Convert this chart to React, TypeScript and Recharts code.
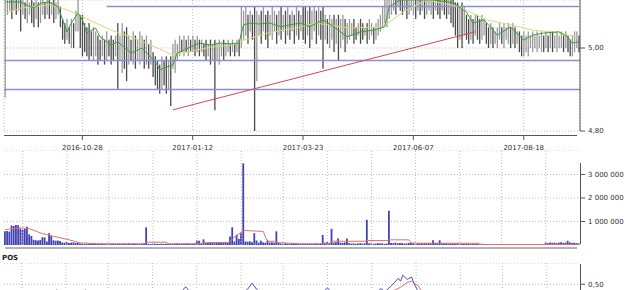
import { ComposedChart, Bar, Line, XAxis, YAxis, CartesianGrid, ReferenceLine } from 'recharts'

// daily highs / lows, one per session
const high = [
  5.13, 5.12, 5.13, 5.12, 5.13, 5.12, 5.12, 5.13, 5.12, 5.11,
  5.12, 5.11, 5.12, 5.11, 5.12, 5.11, 5.12, 5.12, 5.11, 5.12,
  5.12, 5.11, 5.12, 5.11, 5.12, 5.10, 5.07, 5.06, 5.07, 5.05,
  5.07, 5.06, 5.09, 5.12, 5.08, 5.08, 5.06, 5.05, 5.06, 5.04,
  5.05, 5.04, 5.03, 5.02, 5.03, 5.02, 5.04, 5.02, 5.03, 5.02,
  5.03, 5.06, 5.03, 5.06, 5.04, 5.05, 5.03, 5.02, 5.04, 5.03,
  5.02, 5.04, 5.03, 5.02, 5.03, 5.01, 5.02, 4.99, 4.98, 4.97,
  4.96, 4.98, 4.97, 4.98, 4.97, 4.98, 5.01, 5.02, 5.01, 5.03,
  5.02, 5.03, 5.02, 5.03, 5.02, 5.03, 5.02, 5.03, 5.02, 5.02,
  5.01, 5.02, 5.01, 5.02, 5.01, 5.02, 5.01, 5.02, 5.01, 5.02,
  5.01, 5.02, 5.01, 5.02, 5.01, 5.02, 5.02, 5.10, 5.09, 5.10,
  5.08, 5.09, 5.08, 5.10, 5.09, 5.08, 5.09, 5.10, 5.08, 5.09,
  5.08, 5.10, 5.09, 5.08, 5.09, 5.10, 5.08, 5.09, 5.10, 5.08,
  5.09, 5.08, 5.10, 5.09, 5.08, 5.10, 5.10, 5.09, 5.10, 5.09,
  5.10, 5.09, 5.10, 5.09, 5.10, 5.08, 5.07, 5.08, 5.07, 5.08,
  5.07, 5.08, 5.07, 5.08, 5.07, 5.06, 5.07, 5.06, 5.07, 5.05,
  5.06, 5.07, 5.06, 5.05, 5.06, 5.07, 5.06, 5.05, 5.06, 5.07,
  5.08, 5.10, 5.12, 5.13, 5.13, 5.13, 5.14, 5.13, 5.14, 5.14,
  5.13, 5.14, 5.13, 5.14, 5.13, 5.14, 5.13, 5.14, 5.13, 5.14,
  5.13, 5.14, 5.13, 5.14, 5.13, 5.14, 5.13, 5.13, 5.14, 5.13,
  5.13, 5.12, 5.13, 5.12, 5.11, 5.11, 5.10, 5.11, 5.10, 5.08,
  5.07, 5.08, 5.07, 5.08, 5.08, 5.07, 5.08, 5.07, 5.06, 5.05,
  5.06, 5.05, 5.04, 5.05, 5.06, 5.05, 5.06, 5.05, 5.06, 5.05,
  5.06, 5.05, 5.04, 5.04, 5.03, 5.04, 5.03, 5.04, 5.03, 5.04,
  5.03, 5.04, 5.03, 5.04, 5.03, 5.04, 5.03, 5.04, 5.04, 5.03,
  5.04, 5.03, 5.04, 5.03, 5.04, 5.03, 5.02, 5.03, 5.04, 5.04,
  5.03,
]
const low = [
  4.88, 5.08, 5.09, 5.07, 5.09, 5.08, 5.09, 5.04, 5.08, 5.07,
  5.06, 5.08, 5.06, 5.05, 5.07, 5.05, 5.06, 5.08, 5.07, 5.08,
  5.07, 5.08, 5.06, 5.07, 5.08, 5.05, 5.02, 5.01, 5.02, 5.01,
  5.00, 5.00, 5.04, 5.04, 5.00, 4.98, 4.99, 4.98, 4.97, 4.98,
  4.97, 4.98, 4.96, 4.97, 4.98, 4.96, 4.97, 4.98, 4.96, 4.97,
  4.98, 4.90, 4.97, 4.94, 4.95, 4.92, 4.96, 4.97, 4.96, 4.95,
  4.97, 4.96, 4.97, 4.95, 4.96, 4.95, 4.96, 4.93, 4.91, 4.90,
  4.89, 4.90, 4.91, 4.89, 4.90, 4.86, 4.95, 4.94, 4.97, 4.98,
  4.99, 4.98, 4.99, 4.98, 4.99, 4.99, 4.98, 4.99, 4.98, 4.99,
  4.98, 4.97, 4.98, 4.96, 4.97, 4.85, 4.97, 4.96, 4.98, 4.97,
  4.98, 4.99, 4.98, 4.99, 4.98, 4.99, 4.98, 5.00, 5.02, 5.03,
  5.01, 5.04, 5.02, 4.80, 4.92, 5.03, 5.01, 5.04, 5.02, 5.00,
  5.03, 5.02, 5.04, 5.01, 5.03, 5.02, 5.04, 5.01, 5.03, 5.02,
  5.04, 5.01, 5.03, 5.02, 5.04, 5.02, 5.01, 5.03, 5.00, 5.02,
  5.04, 5.01, 5.03, 5.02, 4.95, 5.02, 5.01, 5.00, 5.02, 4.99,
  5.01, 4.97, 5.00, 5.02, 4.99, 5.01, 5.02, 5.03, 5.01, 5.02,
  5.03, 5.01, 5.02, 5.03, 5.01, 5.02, 5.03, 5.01, 5.02, 5.03,
  5.04, 5.05, 5.06, 5.05, 5.07, 5.08, 5.09, 5.08, 5.10, 5.09,
  5.08, 5.09, 5.07, 5.08, 5.09, 5.08, 5.07, 5.09, 5.08, 5.09,
  5.07, 5.08, 5.09, 5.08, 5.07, 5.09, 5.08, 5.07, 5.09, 5.08,
  5.07, 5.08, 5.06, 5.05, 5.03, 5.00, 5.02, 5.00, 5.03, 5.02,
  5.01, 5.02, 5.01, 5.03, 5.02, 5.01, 5.02, 5.03, 5.01, 5.00,
  5.01, 5.00, 5.01, 5.00, 5.02, 5.01, 5.00, 5.02, 5.01, 5.00,
  5.01, 5.00, 5.01, 4.99, 4.98, 4.98, 4.99, 4.98, 5.00, 4.99,
  5.00, 4.99, 5.00, 4.99, 4.99, 5.00, 4.99, 5.00, 4.99, 5.00,
  4.99, 5.00, 5.00, 4.99, 5.00, 4.99, 4.98, 4.98, 4.99, 5.00,
  4.99,
]
// volume in thousands
const volumeK = [
  580, 600, 570, 830, 810, 850, 840, 700, 640, 680,
  780, 450, 380, 220, 200, 190, 210, 330, 320, 150,
  500, 380, 200, 180, 190, 170,
  110, 100, 120, 90, 100, 110, 90, 100,
  60, 50, 40, 60, 50, 50, 40, 60, 50, 50, 60, 40, 50, 50, 60, 50, 40, 50, 60, 50, 50, 40, 80, 50, 60, 50, 50, 40, 60, 50,
  750,
  50, 40, 60, 50, 50, 40, 60, 50, 50, 60, 40, 50, 50, 60, 50, 40, 50, 60, 50, 50, 40, 60,
  190, 180, 60, 240,
  100, 80, 110, 90, 100, 120, 80, 100, 90, 110, 100,
  360, 750, 150, 440, 260, 500, 3470,
  150, 140, 160, 120,
  500,
  190, 100, 180, 110, 100, 190, 100, 120, 100,
  580,
  100, 60, 50, 80, 60, 50, 70, 50, 60, 50, 40, 60, 50, 50, 60, 40, 50, 60, 50, 70,
  430, 100, 120, 90, 690, 100, 120, 280, 100, 90, 110, 280,
  80, 60, 70, 50, 60, 80, 60, 70,
  1070,
  60, 70, 50, 60, 80, 60, 70, 50, 60,
  1460,
  90, 80, 100, 70, 90, 80, 60, 70, 90, 80, 70, 60, 80, 70, 60, 80, 70, 90, 60,
  200, 90, 80, 200,
  70, 60, 80, 60, 70, 50, 60, 70, 50, 60, 40, 50, 60, 40, 50, 40, 50, 30, 40, 50, 30, 40,
  0, 20, 0, 0, 20, 0, 0, 0, 20, 0, 0, 0, 0, 20, 0, 0, 0, 0, 0, 20, 0, 0, 0, 0, 0,
  100, 80, 110, 90, 100, 80, 100, 120, 90, 100, 180, 110, 90, 100, 80, 70,
]

// [session, value] points
const maShort: [number, number][] = [
  [0, 5.111], [7, 5.111], [13, 5.096], [15, 5.104], [17, 5.109], [20, 5.111], [24, 5.099], [28, 5.039],
  [30, 5.06], [33, 5.084], [35, 5.068], [37, 5.036], [41, 5.048], [43, 5.027], [48, 5.007], [51, 5.015],
  [54, 5.002], [57, 4.988], [60, 4.995], [62, 5.0], [66, 4.978], [69, 4.959], [70, 4.947], [73, 4.954],
  [76, 4.959], [78, 4.988], [81, 4.995], [84, 5.002], [88, 5.012], [93, 5.007], [97, 5.012], [102, 5.01],
  [106, 5.012], [108, 5.056], [111, 5.06], [115, 5.058], [120, 5.06], [125, 5.051], [129, 5.056],
  [134, 5.06], [138, 5.051], [144, 5.068], [149, 5.051], [155, 5.027], [161, 5.039], [167, 5.043],
  [172, 5.051], [174, 5.099], [179, 5.116], [194, 5.116], [203, 5.109], [209, 5.087], [212, 5.06],
  [217, 5.068], [223, 5.031], [229, 5.051], [235, 5.019], [239, 5.031], [244, 5.036], [251, 5.039],
  [255, 5.027], [257, 5.012], [260, 5.015],
]
const maLong: [number, number][] = [
  [0, 5.084], [7, 5.096], [20, 5.104], [28, 5.092], [38, 5.068], [48, 5.043], [57, 5.027], [66, 5.007],
  [76, 4.983], [82, 4.99], [93, 5.002], [103, 5.007], [108, 5.019], [119, 5.036], [134, 5.051],
  [141, 5.06], [156, 5.048], [171, 5.051], [181, 5.089], [191, 5.116], [206, 5.099], [218, 5.068],
  [229, 5.056], [239, 5.043], [248, 5.039], [259, 5.027],
]
const volMaK: [number, number][] = [
  [0, 650], [7, 730], [11, 690], [17, 480], [22, 370], [29, 220], [34, 90], [43, 50], [63, 50], [64, 120],
  [73, 120], [74, 50], [87, 55], [92, 100], [101, 110], [102, 150], [103, 260], [108, 620], [117, 575],
  [118, 330], [119, 160], [122, 160], [124, 100], [134, 50], [147, 50], [148, 160], [163, 160], [164, 190],
  [173, 190], [174, 220], [183, 220], [184, 90], [187, 75], [215, 75], [216, 20], [260, 20],
]
const posMain: [number, number][] = [
  [0, 0.2], [10, 0.25], [20, 0.3], [24, 0.41], [27, 0.3], [34, 0.32], [37, 0.41], [40, 0.3], [50, 0.25],
  [60, 0.2], [70, 0.25], [79, 0.33], [82, 0.46], [85, 0.33], [95, 0.25], [105, 0.3], [110, 0.42],
  [112, 0.52], [114, 0.42], [118, 0.3], [130, 0.25], [143, 0.33], [146, 0.44], [149, 0.33], [160, 0.28],
  [167, 0.3], [170, 0.43], [172, 0.38], [175, 0.48], [178, 0.6], [179, 0.55], [180, 0.65], [182, 0.58],
  [184, 0.62], [185, 0.52], [187, 0.38], [190, 0.3], [210, 0.25], [230, 0.2], [250, 0.22], [260, 0.2],
]
const posSignal: [number, number][] = [
  [0, 0.2], [30, 0.28], [60, 0.22], [90, 0.3], [112, 0.38], [130, 0.25], [160, 0.3], [175, 0.38],
  [179, 0.45], [182, 0.53], [184, 0.55], [187, 0.47], [189, 0.37], [200, 0.3], [230, 0.22], [260, 0.2],
]

const dateTicks = [35, 85, 135, 185, 235]
const dateLabels = ['2016-10-28', '2017-01-12', '2017-03-23', '2017-06-07', '2017-08-18']
const priceTicks = [4.8, 5.0]
const levels = [4.97, 4.9]
const upperLevel = { from: 46, to: 260, price: 5.1 }
const trend = [{ x: 76, y: 4.851 }, { x: 213, y: 5.039 }]
const volTicks = [1000000, 2000000, 3000000]
const posTicks = [0.5]
const monthGrid = [8, 28, 47, 67, 87, 107, 126, 146, 166, 186, 206, 225, 245]

const m1 = new Map(maShort)
const m2 = new Map(maLong)
const vm = new Map(volMaK)
const pm = new Map(posMain)
const ps = new Map(posSignal)

const data = high.map((h, i) => ({
  i,
  range: [low[i], h],
  vol: (volumeK[i] ?? 0) * 1000,
  ma1: m1.get(i) ?? null,
  ma2: m2.get(i) ?? null,
  volMa: vm.has(i) ? vm.get(i)! * 1000 : null,
  pos: pm.get(i) ?? null,
  sig: ps.get(i) ?? null,
}))

const FONT = '"DejaVu Sans", Verdana, sans-serif'
const tickStyle = { fontSize: 7, fill: '#333', fontFamily: FONT }
const comma2 = (v: number) => v.toFixed(2).replace('.', ',')
// non-breaking spaces so the tick text is not wrapped
const spaced = (v: number) => String(v).replace(/\B(?=(\d{3})+(?!\d))/g, '\u00A0')

function HLBar(props: any) {
  const { x, y, width, height, index, payload } = props
  if (x == null || y == null) return null
  const top = Math.min(y, y + height)
  const h = Math.max(Math.abs(height), 1)
  const prev = data[index - 1]
  const mid = (payload.range[0] + payload.range[1]) / 2
  const prevMid = prev ? (prev.range[0] + prev.range[1]) / 2 : mid
  const color = mid < prevMid ? '#4a4a4a' : '#9a9a9a'
  return <rect x={x + width / 2 - 0.65} y={top} width={1.3} height={h} fill={color} />
}

function DateTick({ x, y, payload }: any) {
  const k = dateTicks.indexOf(payload.value)
  return (
    <g>
      <line x1={x} x2={x} y1={y + 4} y2={y + 9} stroke="#555" />
      <text x={x} y={y + 19} textAnchor="middle" fontSize={7} fill="#333" fontFamily={FONT}>
        {dateLabels[k]}
      </text>
    </g>
  )
}

function PriceChart() {
  return (
    <ComposedChart width={625} height={160} data={data} margin={{ top: 0, right: 0, bottom: 0, left: 4 }}>
      <CartesianGrid strokeDasharray="1 2" stroke="#bbb" />
      <XAxis
        dataKey="i"
        ticks={dateTicks}
        interval={0}
        tick={DateTick}
        tickSize={0}
        tickMargin={0}
        axisLine={false}
        tickLine={false}
        height={29}
      />
      <YAxis
        orientation="right"
        width={45}
        domain={[4.8, 5.1157]}
        allowDataOverflow
        ticks={priceTicks}
        tickFormatter={comma2}
        tick={tickStyle}
        tickSize={5}
        tickMargin={3}
        axisLine={{ stroke: '#555' }}
        tickLine={{ stroke: '#555' }}
      />
      {levels.map((p) => (
        <ReferenceLine key={p} y={p} stroke="#8c8cd8" strokeWidth={1.5} />
      ))}
      <ReferenceLine
        segment={[
          { x: upperLevel.from, y: upperLevel.price },
          { x: upperLevel.to, y: upperLevel.price },
        ]}
        stroke="#8c8cd8"
        strokeWidth={1.5}
      />
      <Bar dataKey="range" shape={HLBar} isAnimationActive={false} />
      <Line dataKey="ma2" stroke="#d9d97a" strokeWidth={1} dot={false} connectNulls isAnimationActive={false} />
      <Line dataKey="ma1" stroke="#3f9a3f" strokeWidth={1} dot={false} connectNulls isAnimationActive={false} />
      <ReferenceLine segment={trend} stroke="#d04a4a" strokeWidth={1} />
    </ComposedChart>
  )
}

function VolumeChart() {
  return (
    <ComposedChart width={625} height={95} data={data} margin={{ top: 0, right: 0, bottom: 0, left: 4 }}>
      <XAxis dataKey="i" hide />
      <YAxis
        orientation="right"
        width={45}
        domain={[0, 4040000]}
        ticks={volTicks}
        tickFormatter={spaced}
        tick={tickStyle}
        tickSize={5}
        tickMargin={3}
        axisLine={false}
        tickLine={{ stroke: '#555' }}
      />
      <CartesianGrid vertical={false} strokeDasharray="1 2" stroke="#bbb" />
      {monthGrid.map((g) => (
        <ReferenceLine key={g} x={g} stroke="#bbb" strokeDasharray="1 2" />
      ))}
      <Bar dataKey="vol" fill="#4242b2" barSize={1.8} isAnimationActive={false} />
      <Line dataKey="volMa" stroke="#e07070" strokeWidth={1} dot={false} connectNulls isAnimationActive={false} />
    </ComposedChart>
  )
}

function PosChart() {
  return (
    <ComposedChart width={625} height={82} data={data} margin={{ top: 0, right: 0, bottom: 0, left: 4 }}>
      <XAxis dataKey="i" hide />
      <YAxis
        orientation="right"
        width={45}
        domain={[-0.5, 0.85]}
        ticks={posTicks}
        tickFormatter={comma2}
        tick={tickStyle}
        tickSize={5}
        tickMargin={3}
        axisLine={false}
        tickLine={{ stroke: '#555' }}
      />
      <CartesianGrid vertical={false} strokeDasharray="1 2" stroke="#bbb" />
      {monthGrid.map((g) => (
        <ReferenceLine key={g} x={g} stroke="#bbb" strokeDasharray="1 2" />
      ))}
      <Line dataKey="sig" stroke="#e07070" strokeWidth={1} dot={false} connectNulls isAnimationActive={false} />
      <Line dataKey="pos" stroke="#5050c4" strokeWidth={1} dot={false} connectNulls isAnimationActive={false} />
    </ComposedChart>
  )
}

export default function App() {
  return (
    <div
      style={{
        position: 'fixed',
        left: 0,
        top: 0,
        width: 625,
        height: 290,
        overflow: 'hidden',
        background: '#fff',
        fontFamily: FONT,
      }}
    >
      <div style={{ position: 'absolute', left: 0, top: 0 }}>
        <PriceChart />
      </div>
      <div style={{ position: 'absolute', left: 0, top: 150 }}>
        <VolumeChart />
      </div>
      <div style={{ position: 'absolute', left: 0, top: 263 }}>
        <PosChart />
      </div>
      <svg width={625} height={290} style={{ position: 'absolute', left: 0, top: 0, pointerEvents: 'none' }}>
        <line x1={4} x2={577} y1={135.5} y2={135.5} stroke="#555" />
        <line x1={580.5} x2={580.5} y1={163} y2={244} stroke="#555" />
        <line x1={580.5} x2={580.5} y1={264} y2={290} stroke="#555" />
        <line x1={5} x2={577} y1={248} y2={248} stroke="#b4b4b4" strokeWidth={2} />
        <text x={2} y={260} fontSize={7} fontWeight="bold" fill="#222" fontFamily={FONT}>
          POS
        </text>
      </svg>
    </div>
  )
}
